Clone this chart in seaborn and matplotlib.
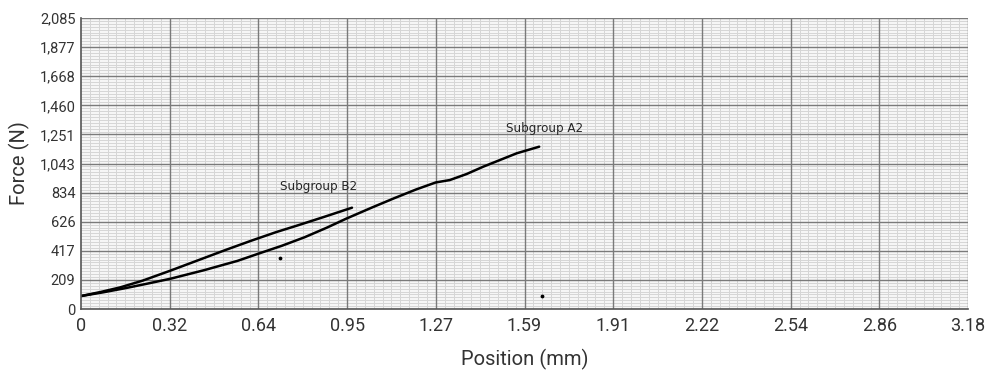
import numpy as np
import pandas as pd
import matplotlib.pyplot as plt
import seaborn as sns
from matplotlib.ticker import FixedLocator

# tick labels as printed on the chart
x_labels = ["0", "0.32", "0.64", "0.95", "1.27", "1.59", "1.91", "2.22", "2.54", "2.86", "3.18"]
y_labels = ["0", "209", "417", "626", "834", "1,043", "1,251", "1,460", "1,668", "1,877", "2,085"]
x_max = 3.175
y_max = 2085

# curves
b2_pos = [0, 0.07, 0.14, 0.22, 0.32, 0.42, 0.52, 0.61, 0.70, 0.78, 0.87, 0.97]
b2_force = [93, 122, 155, 203, 275, 350, 425, 490, 552, 602, 660, 726]

a2_pos = [0, 0.08, 0.16, 0.24, 0.32, 0.44, 0.56, 0.64, 0.72, 0.80, 0.88, 0.95,
          1.04, 1.12, 1.20, 1.27, 1.32, 1.38, 1.44, 1.50, 1.56, 1.64]
a2_force = [93, 120, 150, 183, 217, 278, 345, 400, 454, 514, 583, 648,
            726, 793, 857, 907, 924, 967, 1020, 1068, 1116, 1163]

# stray pen specks on the scan
speck_pos = [0.712, 1.65]
speck_force = [368, 93]

df = pd.concat([
    pd.DataFrame({"pos": b2_pos, "force": b2_force, "curve": "Subgroup B2"}),
    pd.DataFrame({"pos": a2_pos, "force": a2_force, "curve": "Subgroup A2"}),
])

sns.set_style("white")
plt.rcParams["font.family"] = ["Roboto", "DejaVu Sans"]

fig, ax = plt.subplots(figsize=(9.97, 3.71), dpi=100)
fig.subplots_adjust(left=0.0812, right=0.971, bottom=0.167, top=0.9515)
ax.set_facecolor("#f6f6f6")

sns.lineplot(data=df, x="pos", y="force", hue="curve", units="curve", estimator=None,
             palette={"Subgroup B2": "black", "Subgroup A2": "black"},
             linewidth=1.8, sort=False, legend=False, ax=ax)
ax.scatter(speck_pos, speck_force, s=3, color="black", zorder=3)

ax.set_xlim(0, x_max)
ax.set_ylim(0, y_max)
x_major = np.linspace(0, x_max, len(x_labels))
y_major = np.linspace(0, y_max, len(y_labels))
ax.xaxis.set_major_locator(FixedLocator(x_major))
ax.yaxis.set_major_locator(FixedLocator(y_major))
ax.set_xticklabels(x_labels)
ax.set_yticklabels(y_labels)

# graph paper: fine lines every 1/10 of a major step, heavier lines on the majors
x_fine = [x_max * i / 100 for i in range(101) if i % 10]
y_fine = [y_max * i / 100 for i in range(101) if i % 10]
ax.xaxis.set_minor_locator(FixedLocator(x_fine))
ax.yaxis.set_minor_locator(FixedLocator(y_fine))
ax.grid(which="minor", color="#d6d6d6", linewidth=0.7, linestyle="-")
ax.set_axisbelow(True)
ax.vlines(x_major[1:], 0, y_max, color="#7a7a7a", linewidth=1.0, zorder=0.8)
ax.hlines(y_major[1:], 0, x_max, color="#7a7a7a", linewidth=1.0, zorder=0.8)

ax.tick_params(axis="x", which="both", length=0, labelsize=13, labelcolor="#333333", pad=6)
ax.tick_params(axis="y", which="both", length=0, labelsize=10.5, labelcolor="#333333", pad=4)

for side in ["top", "right"]:
    ax.spines[side].set_visible(False)
for side in ["left", "bottom"]:
    ax.spines[side].set_color("#555555")
    ax.spines[side].set_linewidth(1.2)

ax.set_xlabel("Position (mm)", fontsize=14.5, color="#333333", labelpad=10)
ax.set_ylabel("Force (N)", fontsize=14.5, color="#333333", labelpad=7)

label_font = ["Liberation Sans Narrow", "DejaVu Sans Condensed", "DejaVu Sans"]
ax.annotate("Subgroup B2", (b2_pos[-1], b2_force[-1]), xytext=(-24, 15),
            textcoords="offset points", ha="center", va="center",
            fontsize=9.5, family=label_font, fontstretch="condensed")
ax.annotate("Subgroup A2", (a2_pos[-1], a2_force[-1]), xytext=(4, 13),
            textcoords="offset points", ha="center", va="center",
            fontsize=9.5, family=label_font, fontstretch="condensed")

fig.savefig("out.png", dpi=100)
